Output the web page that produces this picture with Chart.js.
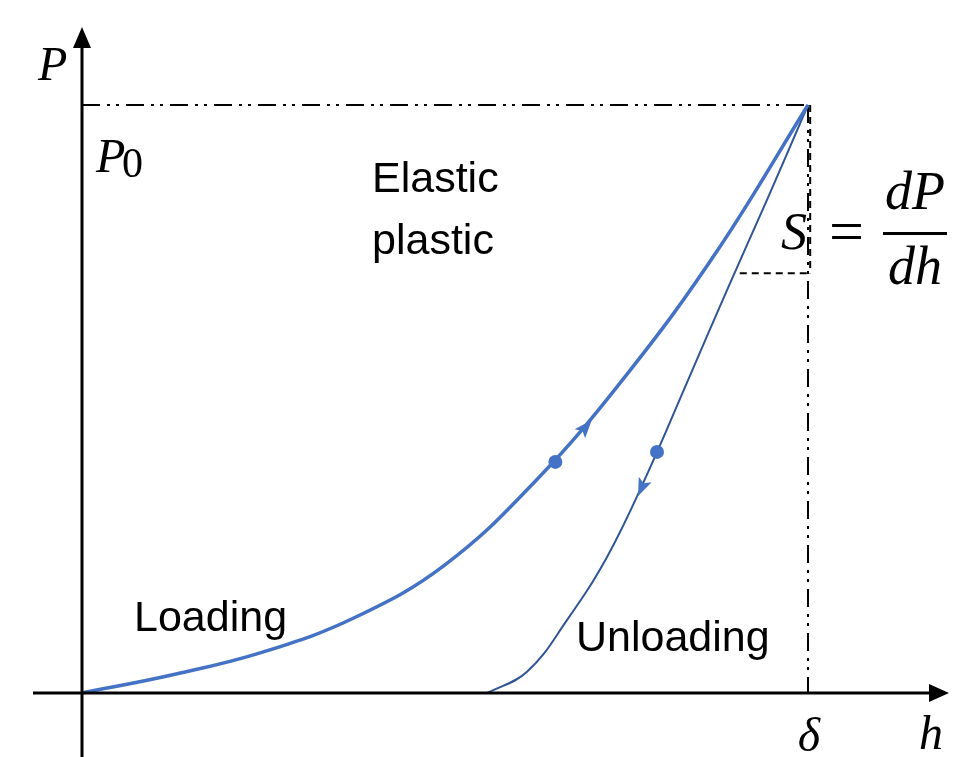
<!DOCTYPE html>
<html>
<head>
<meta charset="utf-8">
<script src="https://cdn.jsdelivr.net/npm/chart.js@4.4.0/dist/chart.umd.min.js"></script>
<style>
  html, body { margin: 0; padding: 0; background: #fff; }
  #wrap { width: 954px; height: 757px; }
</style>
</head>
<body>
<div id="wrap"><canvas id="chart" width="954" height="757"></canvas></div>
<script>
// h is normalised by delta, P by P0
const loadH = [0, 0.125, 0.25, 0.375, 0.5, 0.625, 0.75, 0.875, 1];
const loadP = [0, 0.031, 0.070, 0.128, 0.218, 0.361, 0.541, 0.752, 1];

const unloadH = [0.558, 0.613, 0.668, 0.723, 0.778, 0.833, 0.888, 0.944, 1];
const unloadP = [0, 0.036, 0.124, 0.231, 0.371, 0.527, 0.684, 0.840, 1];

// marker dots and arrow tips (h, P)
const dotH = [0.652, 0.792];
const dotP = [0.393, 0.410];
const arrowH = [0.702, 0.766];
const arrowP = [0.464, 0.335];

// stiffness construction
const tangentH = [0.906, 1];
const tangentP = 0.714;

const pts = (hs, ps) => hs.map((h, i) => ({ x: h, y: ps[i] }));

const LOAD = '#4472C4';
const UNLOAD = '#2F5597';

const decor = {
    id: 'decor',
    afterDraw(chart) {
        const { ctx, scales: { x, y } } = chart;
        const x0 = x.getPixelForValue(0), y0 = y.getPixelForValue(0);
        ctx.save();

        // axes
        ctx.strokeStyle = '#000';
        ctx.fillStyle = '#000';
        ctx.lineWidth = 3;
        ctx.beginPath();
        ctx.moveTo(33, y0); ctx.lineTo(932, y0);
        ctx.moveTo(x0, 757); ctx.lineTo(x0, 44);
        ctx.stroke();
        ctx.beginPath();
        ctx.moveTo(949, y0); ctx.lineTo(929, y0 - 9); ctx.lineTo(929, y0 + 9); ctx.closePath();
        ctx.moveTo(x0, 27); ctx.lineTo(x0 - 9, 48); ctx.lineTo(x0 + 9, 48); ctx.closePath();
        ctx.fill();

        // arrowheads on the curves
        ctx.fillStyle = LOAD;
        arrowH.forEach((h, i) => {
            const tx = x.getPixelForValue(h), ty = y.getPixelForValue(arrowP[i]);
            const dx = tx - x.getPixelForValue(dotH[i]), dy = ty - y.getPixelForValue(dotP[i]);
            const len = Math.hypot(dx, dy), ux = dx / len, uy = dy / len;
            const bx = tx - ux * 18, by = ty - uy * 18;
            ctx.beginPath();
            ctx.moveTo(tx, ty);
            ctx.lineTo(bx - uy * 7, by + ux * 7);
            ctx.lineTo(bx + ux * 4, by + uy * 4);
            ctx.lineTo(bx + uy * 7, by - ux * 7);
            ctx.closePath();
            ctx.fill();
        });

        // labels
        ctx.fillStyle = '#000';
        ctx.textBaseline = 'alphabetic';
        ctx.textAlign = 'left';
        ctx.font = 'italic 48px "Liberation Serif"';
        ctx.fillText('P', 38, 80);
        ctx.fillText('P', 96, 172);
        ctx.font = '42px "Liberation Serif"';
        ctx.fillText('0', 122, 177);

        ctx.font = '43px "Liberation Sans"';
        ctx.fillText('Elastic', 372, 192);
        ctx.fillText('plastic', 372, 254);
        ctx.fillText('Loading', 134, 631);
        ctx.fillText('Unloading', 576, 651);

        ctx.font = 'italic 52px "Liberation Serif"';
        ctx.fillText('S', 781, 249);
        ctx.font = '62px "Liberation Serif"';
        ctx.fillText('=', 829, 252);
        ctx.font = 'italic 54px "Liberation Serif"';
        ctx.textAlign = 'center';
        ctx.fillText('dP', 915, 209);
        ctx.fillText('dh', 915, 284);
        ctx.fillRect(883, 232, 64, 3);

        ctx.font = 'italic 48px "Liberation Serif"';
        ctx.fillText('\u03B4', 809, 751);
        ctx.fillText('h', 931, 749);
        ctx.restore();
    }
};

new Chart(document.getElementById('chart'), {
    type: 'scatter',
    data: {
        datasets: [
            {
                data: pts(dotH, dotP),
                pointRadius: 7,
                pointBackgroundColor: LOAD,
                pointBorderWidth: 0,
                showLine: false
            },
            {
                data: pts(loadH, loadP),
                showLine: true,
                borderColor: LOAD,
                borderWidth: 3.5,
                pointRadius: 0,
                tension: 0.4
            },
            {
                data: pts(unloadH, unloadP),
                showLine: true,
                borderColor: UNLOAD,
                borderWidth: 2,
                pointRadius: 0,
                tension: 0.4
            },
            {
                data: [{ x: 0, y: 1 }, { x: 1, y: 1 }],
                showLine: true,
                borderColor: '#000',
                borderWidth: 2,
                borderDash: [18, 7, 3, 6, 3, 7],
                pointRadius: 0
            },
            {
                data: [{ x: 1, y: 1 }, { x: 1, y: 0 }],
                showLine: true,
                borderColor: '#000',
                borderWidth: 2,
                borderDash: [18, 7, 3, 6, 3, 7],
                pointRadius: 0
            },
            {
                data: [{ x: tangentH[0], y: tangentP }, { x: tangentH[1], y: tangentP }],
                showLine: true,
                borderColor: '#000',
                borderWidth: 2,
                borderDash: [7, 5],
                pointRadius: 0
            },
            {
                data: [{ x: 1.003, y: 1 }, { x: 1.003, y: tangentP }],
                showLine: true,
                borderColor: '#000',
                borderWidth: 2,
                borderDash: [7, 5],
                pointRadius: 0
            }
        ]
    },
    options: {
        responsive: false,
        animation: false,
        layout: { padding: 0, autoPadding: false },
        plugins: { legend: { display: false }, tooltip: { enabled: false } },
        scales: {
            x: { type: 'linear', min: -0.11295, max: 1.2011, display: false },
            y: { type: 'linear', min: -0.10884, max: 1.17857, display: false }
        }
    },
    plugins: [decor]
});
</script>
</body>
</html>
